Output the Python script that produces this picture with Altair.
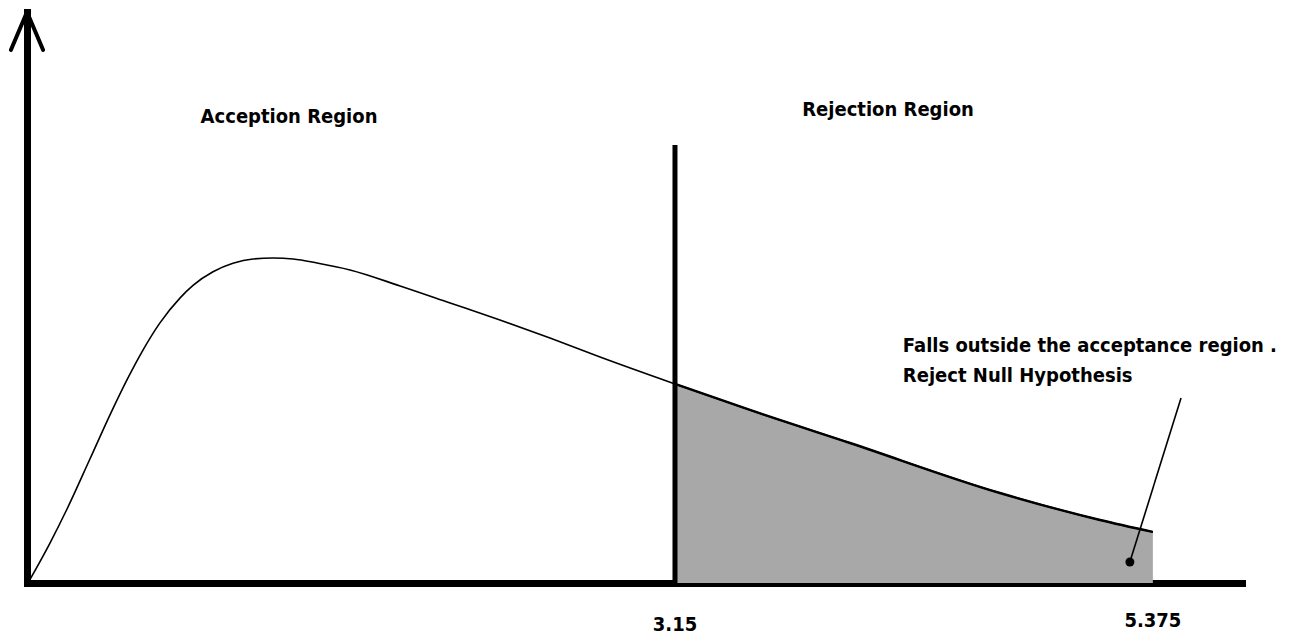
import altair as alt
import pandas as pd

# ---- data ----
curve_x = [0.143, 0.240, 0.320, 0.427, 0.520, 0.599, 0.673, 0.752, 0.846, 0.906,
           0.999, 1.092, 1.185, 1.279, 1.372, 1.483, 1.637, 1.870, 2.103, 2.335,
           2.568, 2.801, 3.150, 3.499, 3.965, 4.663, 5.129, 5.375]
curve_y = [0.0018, 0.0350, 0.0650, 0.1090, 0.1475, 0.1781, 0.2040, 0.2278, 0.2497, 0.2606,
           0.2725, 0.2799, 0.2837, 0.2846, 0.2837, 0.2802, 0.2741, 0.2601, 0.2452, 0.2303,
           0.2145, 0.1979, 0.1743, 0.1515, 0.1226, 0.0788, 0.0552, 0.0447]
critical_value = 3.15
observed_value = 5.375
tick_values = [3.15, 5.375]
tick_texts = ["3.15", "5.375"]
tick_label_y = [-0.0368, -0.0330]
cutoff_top = 0.3835

region_labels = ["Acception Region", "Rejection Region"]
region_x = [1.353, 4.142]
region_y = [0.408, 0.414]

note_lines = ["Falls outside the acceptance region .", "Reject Null Hypothesis"]
note_x = [4.211, 4.211]
note_y = [0.2075, 0.1813]

pointer_x = [5.506, 5.268]
pointer_y = [0.162, 0.0184]

arrow_x = [0.058, 0.133, 0.208]
arrow_y = [0.4667, 0.5, 0.4667]

X_DOMAIN = [0.133, 5.79]
Y_DOMAIN = [0.0, 0.5]
FONT = "Liberation Sans Narrow, DejaVu Sans Condensed, Arial Narrow, DejaVu Sans, sans-serif"
INTERP = "monotone"

curve = pd.DataFrame({"x": curve_x, "y": curve_y})
tail = curve[curve["x"] >= critical_value - 1e-9]

xs = alt.Scale(domain=X_DOMAIN, nice=False, zero=False)
ys = alt.Scale(domain=Y_DOMAIN, nice=False, zero=False)

area = alt.Chart(tail).mark_area(color="#a8a8a8", opacity=1, interpolate=INTERP).encode(
    x=alt.X("x:Q", scale=xs,
            axis=alt.Axis(title=None, labels=False, ticks=False, grid=False,
                          domainColor="black", domainWidth=7, domainCap="square")),
    y=alt.Y("y:Q", scale=ys,
            axis=alt.Axis(title=None, labels=False, ticks=False, grid=False,
                          domainColor="black", domainWidth=7, domainCap="square")),
)

line = alt.Chart(curve).mark_line(color="black", strokeWidth=1.6, interpolate=INTERP).encode(
    x=alt.X("x:Q", scale=xs), y=alt.Y("y:Q", scale=ys))
tail_line = alt.Chart(tail).mark_line(color="black", strokeWidth=2.4, interpolate=INTERP).encode(
    x=alt.X("x:Q", scale=xs), y=alt.Y("y:Q", scale=ys))

cut = alt.Chart(pd.DataFrame({"x": [critical_value], "y": [0.0], "y2": [cutoff_top]})).mark_rule(
    color="black", strokeWidth=5).encode(
    x=alt.X("x:Q", scale=xs), y=alt.Y("y:Q", scale=ys), y2="y2:Q")

arrow = alt.Chart(pd.DataFrame({"x": arrow_x, "y": arrow_y, "o": [0, 1, 2]})).mark_line(
    color="black", strokeWidth=4, strokeCap="round", strokeJoin="round").encode(
    x=alt.X("x:Q", scale=xs), y=alt.Y("y:Q", scale=ys), order="o:O")

pointer = alt.Chart(pd.DataFrame({"x": pointer_x, "y": pointer_y})).mark_line(
    color="black", strokeWidth=1.6).encode(
    x=alt.X("x:Q", scale=xs), y=alt.Y("y:Q", scale=ys))
dot = alt.Chart(pd.DataFrame({"x": pointer_x[1:], "y": pointer_y[1:]})).mark_circle(
    color="black", size=80, opacity=1).encode(
    x=alt.X("x:Q", scale=xs), y=alt.Y("y:Q", scale=ys))

ticks = alt.Chart(pd.DataFrame({"t": tick_texts, "x": tick_values, "y": tick_label_y})).mark_text(
    font=FONT, fontWeight="bold", fontSize=20, color="black", align="center", baseline="middle").encode(
    x=alt.X("x:Q", scale=xs), y=alt.Y("y:Q", scale=ys), text="t:N")

regions = alt.Chart(pd.DataFrame({"t": region_labels, "x": region_x, "y": region_y})).mark_text(
    font=FONT, fontWeight="bold", fontSize=20, color="black", align="center", baseline="middle").encode(
    x=alt.X("x:Q", scale=xs), y=alt.Y("y:Q", scale=ys), text="t:N")

notes = alt.Chart(pd.DataFrame({"t": note_lines, "x": note_x, "y": note_y})).mark_text(
    font=FONT, fontWeight="bold", fontSize=20, color="black", align="left", baseline="middle").encode(
    x=alt.X("x:Q", scale=xs), y=alt.Y("y:Q", scale=ys), text="t:N")

chart = alt.layer(area, line, tail_line, cut, arrow, pointer, dot, ticks, regions, notes).properties(
    width=1215, height=571,
    autosize=alt.AutoSizeParams(type="none"),
    padding={"left": 19, "top": 4, "right": 40, "bottom": 53},
    background="white",
).configure_view(stroke=None)

chart.save("out.html", embed_options={"renderer": "svg", "actions": False})
